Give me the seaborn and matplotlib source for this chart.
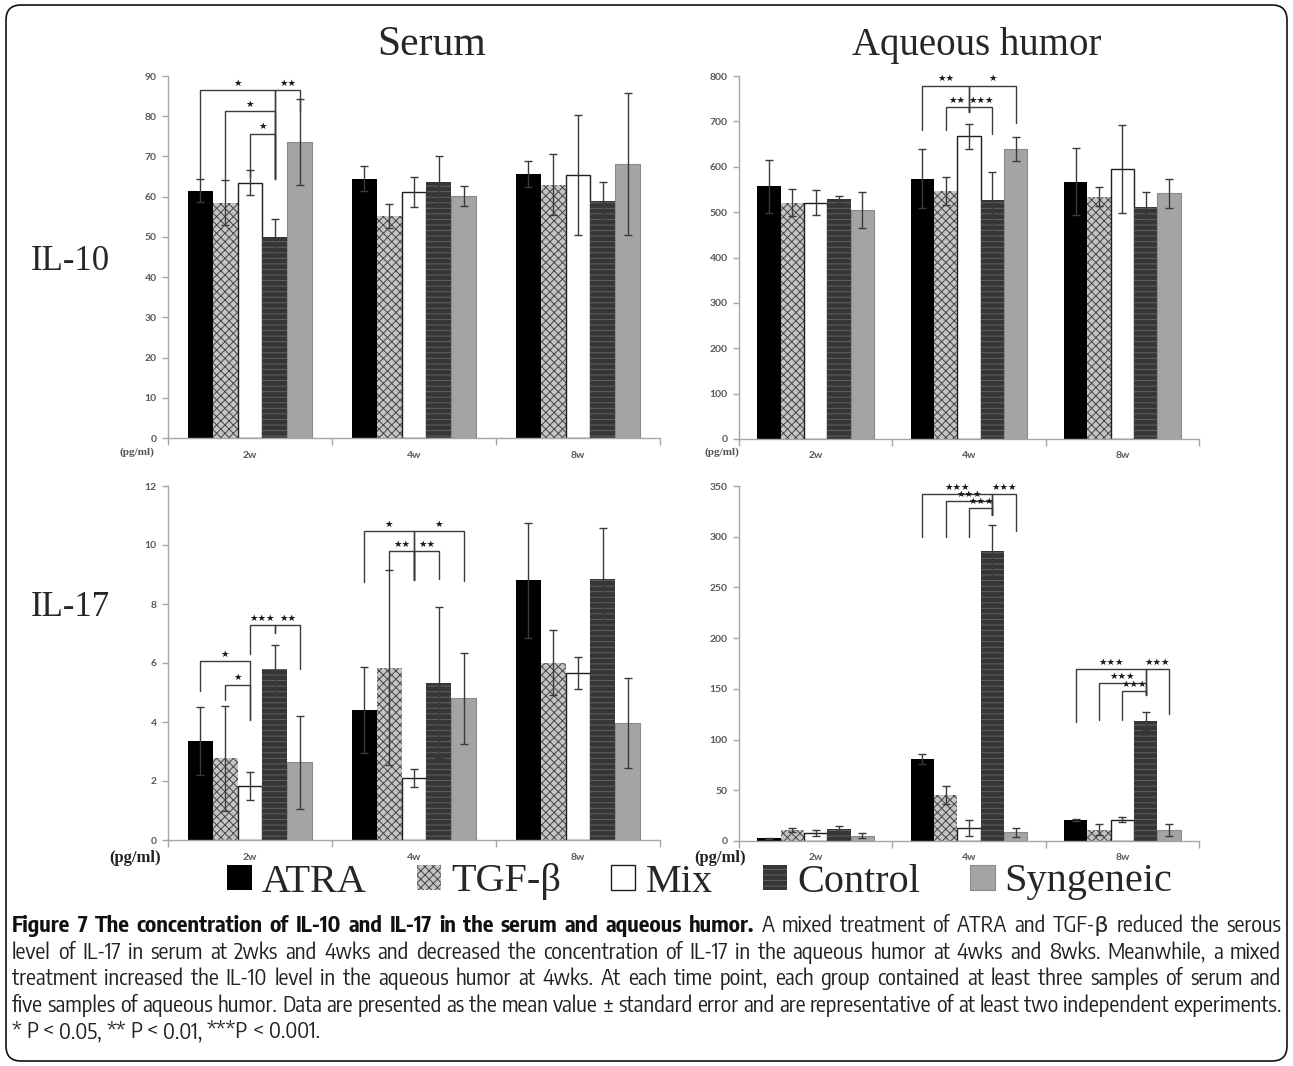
import numpy as np
import pandas as pd
import matplotlib
matplotlib.use("Agg")
import matplotlib.pyplot as plt
import seaborn as sns
from matplotlib.patches import Patch, FancyBboxPatch
from matplotlib import font_manager

# ---------------- data ----------------
weeks = ["2w", "4w", "8w"]
groups = ["ATRA", "TGF-β", "Mix", "Control", "Syngeneic"]

# rows = groups (ATRA, TGF-β, Mix, Control, Syngeneic), columns = weeks
serum_il10 = [[61.5, 64.5, 65.7], [58.5, 55.3, 63.0], [63.5, 61.1, 65.4],
              [49.9, 63.7, 58.9], [73.6, 60.1, 68.1]]
serum_il10_err = [[2.8, 3.2, 3.2], [5.6, 3.0, 7.5], [3.1, 3.7, 15.0],
                  [4.5, 6.3, 4.8], [10.7, 2.5, 17.7]]

aqueous_il10 = [[557, 574, 567], [521, 546, 534], [521, 667, 595],
                [528, 526, 512], [505, 639, 542]]
aqueous_il10_err = [[58, 65, 74], [30, 31, 21], [28, 27, 98],
                    [7, 63, 32], [40, 27, 32]]

serum_il17 = [[3.36, 4.41, 8.81], [2.77, 5.84, 6.01], [1.83, 2.11, 5.66],
              [5.78, 5.33, 8.86], [2.63, 4.80, 3.97]]
serum_il17_err = [[1.14, 1.46, 1.95], [1.78, 3.30, 1.11], [0.46, 0.30, 0.55],
                  [0.84, 2.56, 1.70], [1.58, 1.54, 1.53]]

aqueous_il17 = [[2.6, 81.2, 20.4], [10.5, 45.0, 11.2], [7.9, 12.8, 21.0],
                [12.2, 285.6, 118.3], [5.3, 8.5, 10.5]]
aqueous_il17_err = [[0.5, 5.0, 1.0], [2.0, 9.0, 5.2], [3.3, 7.6, 2.6],
                    [2.3, 25.6, 9.2], [2.6, 4.6, 6.0]]

# significance brackets: (week index, bar i, bar j, bracket level, lower end at i, lower end at j, label)
serum_il10_sig = [(0, 0, 3, 86.5, 64.5, 64.5, "*"), (0, 3, 4, 86.5, 64.5, 81.0, "**"),
                  (0, 1, 3, 81.2, 64.5, 64.5, "*"), (0, 2, 3, 75.7, 64.8, 64.5, "*")]
aqueous_il10_sig = [(1, 0, 2, 779, 680, 721, "**"), (1, 2, 4, 779, 721, 697, "*"),
                    (1, 1, 2, 732, 680, 721, "**"), (1, 2, 3, 732, 721, 673, "***")]
serum_il17_sig = [(0, 0, 2, 6.06, 5.06, 4.06, "*"), (0, 1, 2, 5.27, 4.74, 4.06, "*"),
                  (0, 2, 3, 7.30, 6.32, 7.03, "***"), (0, 3, 4, 7.30, 7.03, 5.79, "**"),
                  (1, 0, 2, 10.47, 8.75, 8.80, "*"), (1, 2, 4, 10.47, 8.80, 8.77, "*"),
                  (1, 1, 2, 9.79, 9.14, 8.80, "**"), (1, 2, 3, 9.79, 8.80, 8.86, "**")]
aqueous_il17_sig = [(1, 0, 3, 342.4, 299.7, 321, "***"), (1, 3, 4, 342.4, 321, 306, "***"),
                    (1, 1, 3, 334.9, 299.7, 321, "***"), (1, 2, 3, 328.3, 300, 321, "***"),
                    (2, 0, 3, 169.6, 117.3, 143.6, "***"), (2, 3, 4, 169.6, 143.6, 125.5, "***"),
                    (2, 1, 3, 155.8, 119, 143.6, "***"), (2, 2, 3, 147.9, 119, 143.6, "***")]

col_titles = ["Serum", "Aqueous humor"]
row_titles = ["IL-10", "IL-17"]
unit_label = "(pg/ml)"
caption_bold = "Figure 7 The concentration of IL-10 and IL-17 in the serum and aqueous humor."
caption_lines = [
    "A mixed treatment of ATRA and TGF-β reduced the serous",
    "level of IL-17 in serum at 2wks and 4wks and decreased the concentration of IL-17 in the aqueous humor at 4wks and 8wks. Meanwhile, a mixed",
    "treatment increased the IL-10 level in the aqueous humor at 4wks. At each time point, each group contained at least three samples of serum and",
    "five samples of aqueous humor. Data are presented as the mean value ± standard error and are representative of at least two independent experiments.",
    "* P < 0.05, ** P < 0.01, ***P < 0.001.",
]

# ---------------- style ----------------
sns.set_style("white")
plt.rcParams["font.family"] = ["DejaVu Sans"]
plt.rcParams["hatch.linewidth"] = 0.7

W, H = 1293, 1066
fig = plt.figure(figsize=(W / 100, H / 100), dpi=100)

bar_styles = {
    "ATRA": dict(facecolor="#000000", edgecolor="#000000", hatch=None, linewidth=0),
    "TGF-β": dict(facecolor="#c4c4c4", edgecolor="#454545", hatch="xxxx", linewidth=0),
    "Mix": dict(facecolor="#ffffff", edgecolor="#1e1e1e", hatch=None, linewidth=1.0),
    "Control": dict(facecolor="#363636", edgecolor="#626262", hatch="---", linewidth=0),
    "Syngeneic": dict(facecolor="#a4a4a4", edgecolor="#8a8a8a", hatch=None, linewidth=0.8),
}
tick_gray = "#595959"
axis_gray = "#a6a6a6"


def px_rect(x0, x1, ytop, ybot):
    return [x0 / W, 1 - ybot / H, (x1 - x0) / W, (ybot - ytop) / H]


panels = [
    (px_rect(168, 660, 76, 438), serum_il10, serum_il10_err, 90, 10, serum_il10_sig),
    (px_rect(739, 1199, 76, 439), aqueous_il10, aqueous_il10_err, 800, 100, aqueous_il10_sig),
    (px_rect(168, 660, 486, 840), serum_il17, serum_il17_err, 12, 2, serum_il17_sig),
    (px_rect(739, 1199, 486, 841), aqueous_il17, aqueous_il17_err, 350, 50, aqueous_il17_sig),
]

for rect, vals, errs, ymax, ystep, sig in panels:
    ax = fig.add_axes(rect)
    df = pd.DataFrame([(w, g, vals[gi][wi]) for gi, g in enumerate(groups)
                       for wi, w in enumerate(weeks)], columns=["week", "group", "value"])
    sns.barplot(data=df, x="week", y="value", hue="group", order=weeks, hue_order=groups,
                errorbar=None, width=0.76, gap=0, legend=False, ax=ax,
                palette={g: bar_styles[g]["facecolor"] for g in groups})
    centers = {}
    for gi, (g, cont) in enumerate(zip(groups, ax.containers)):
        st = bar_styles[g]
        xs = []
        for wi, p in enumerate(cont):
            p.set_facecolor(st["facecolor"])
            p.set_edgecolor(st["edgecolor"])
            p.set_linewidth(st["linewidth"])
            if st["hatch"]:
                p.set_hatch(st["hatch"])
            centers[(gi, wi)] = p.get_x() + p.get_width() / 2
            xs.append(centers[(gi, wi)])
        ax.errorbar(xs, vals[gi], yerr=errs[gi], fmt="none", ecolor="#3a3a3a",
                    elinewidth=1.0, capsize=2.6, capthick=1.0, zorder=5)
    for wi, i, j, lvl, di, dj, lab in sig:
        xi, xj = centers[(i, wi)], centers[(j, wi)]
        ax.plot([xi, xi, xj, xj], [di, lvl, lvl, dj], color="#3c3c3c", lw=1.0,
                zorder=6, clip_on=False)
        ax.annotate(lab.replace("*", "★"), ((xi + xj) / 2, lvl), xytext=(0, 1.5),
                    textcoords="offset points", ha="center", va="bottom",
                    fontsize=6.8, color="#1a1a1a", zorder=7)
    ax.set_ylim(0, ymax)
    ax.set_yticks(np.arange(0, ymax + ystep / 2, ystep))
    ax.set_xlim(-0.5, 2.5)
    ax.set_xticks([-0.5, 0.5, 1.5, 2.5])
    ax.set_xticklabels([])
    ax.set_xticks([0, 1, 2], minor=True)
    ax.set_xticklabels(weeks, minor=True)
    ax.set_xlabel("")
    ax.set_ylabel("")
    for s in ["top", "right"]:
        ax.spines[s].set_visible(False)
    for s in ["left", "bottom"]:
        ax.spines[s].set_color(axis_gray)
        ax.spines[s].set_linewidth(1.0)
    ax.tick_params(axis="y", left=True, length=4, width=1, color=axis_gray,
                   labelsize=7.5, labelcolor=tick_gray, pad=4)
    ax.tick_params(axis="x", which="major", bottom=True, length=5, width=1, color=axis_gray)
    ax.tick_params(axis="x", which="minor", bottom=True, length=0, pad=9,
                   labelsize=7.5, labelcolor=tick_gray)
    for lbl in ax.get_yticklabels() + ax.get_xticklabels(minor=True):
        lbl.set_family(["Lato", "DejaVu Sans"])
        lbl.set_fontweight("bold")

# column / row titles
fig.text(432 / W, 1 - 45 / H, col_titles[0], ha="center", va="center",
         family=["Liberation Serif"], fontsize=30)
fig.text(977 / W, 1 - 45 / H, col_titles[1], ha="center", va="center",
         family=["Liberation Serif"], fontsize=28)
fig.text(70 / W, 1 - 262 / H, row_titles[0], ha="center", va="center",
         family=["Liberation Serif"], fontsize=25)
fig.text(70 / W, 1 - 608 / H, row_titles[1], ha="center", va="center",
         family=["Liberation Serif"], fontsize=25)

# unit labels
for (ux, uy, fs, col) in [(137, 452, 8, "#555555"), (722, 452, 8, "#555555"),
                          (135, 858, 12, "#222222"), (720, 858, 12, "#222222")]:
    fig.text(ux / W, 1 - uy / H, unit_label, ha="center", va="center",
             family=["Liberation Serif"], fontsize=fs, color=col, fontweight="bold")

# legend
handles = [Patch(facecolor=bar_styles[g]["facecolor"], edgecolor=bar_styles[g]["edgecolor"],
                 hatch=bar_styles[g]["hatch"], linewidth=bar_styles[g]["linewidth"], label=g)
           for g in groups]
fig.legend(handles=handles, loc="center", bbox_to_anchor=(700 / W, 1 - 882 / H), ncol=5,
           frameon=False, prop={"family": ["Liberation Serif"], "size": 29},
           handlelength=0.6, handleheight=0.6, handletextpad=0.25, columnspacing=1.25,
           borderpad=0)

# caption font: prefer a condensed sans if one is installed
cap_family, cap_stretch = ["Open Sans", "DejaVu Sans"], "normal"
cond_words = ("condensed", "narrow")
for f in font_manager.fontManager.ttflist:
    st = str(f.stretch).lower()
    nm = f.name.lower()
    if any(c in nm for c in cond_words) and "sans" in nm and "mono" not in nm:
        cap_family, cap_stretch = [f.name, "DejaVu Sans"], "normal"
        break
    if st in ("condensed", "semi-condensed", "extra-condensed") and f.name in (
            "Noto Sans", "Open Sans", "Roboto", "Liberation Sans") and f.style == "normal":
        cap_family, cap_stretch = [f.name, "DejaVu Sans"], st

renderer = fig.canvas.get_renderer()
probe = fig.text(0, 0, caption_lines[3], family=cap_family, stretch=cap_stretch, fontsize=12)
w12 = probe.get_window_extent(renderer).width
probe.remove()
cap_fs = min(12 * 1266 / w12, 16)
x_left, x_right = 12, 1281
line_y = [926, 953, 979, 1006, 1032]


def place_line(words, y, justify):
    texts = []
    for wtxt, bold in words:
        t = fig.text(0, 1 - y / H, wtxt, ha="left", va="center", family=cap_family,
                     stretch=cap_stretch, fontsize=cap_fs,
                     fontweight="bold" if bold else "normal",
                     color="#111111" if bold else "#222222")
        texts.append(t)
    widths = [t.get_window_extent(renderer).width for t in texts]
    sp = fig.text(0, 0, "a a", family=cap_family, stretch=cap_stretch, fontsize=cap_fs)
    aa = fig.text(0, 0, "aa", family=cap_family, stretch=cap_stretch, fontsize=cap_fs)
    sw = sp.get_window_extent(renderer).width - aa.get_window_extent(renderer).width
    sp.remove()
    aa.remove()
    total = sum(widths)
    gap = (x_right - x_left - total) / (len(texts) - 1) if justify else sw
    x = x_left
    for t, w in zip(texts, widths):
        t.set_x(x / W)
        x += w + gap


first = [(w, True) for w in caption_bold.split()] + [(w, False) for w in caption_lines[0].split()]
place_line(first, line_y[0], True)
for k in range(1, 5):
    place_line([(w, False) for w in caption_lines[k].split()], line_y[k], k < 4)

# rounded border
border = FancyBboxPatch((0.06, 0.05), W / 100 - 0.12, H / 100 - 0.10,
                        boxstyle="round,pad=0,rounding_size=0.15",
                        transform=fig.dpi_scale_trans, fill=False, ec="#111111", lw=1.2)
fig.patches.append(border)

fig.savefig("out.png", dpi=100)
